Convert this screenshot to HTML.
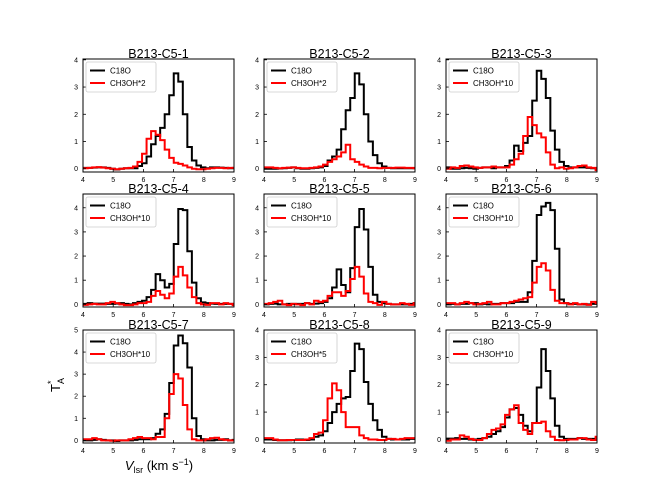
<!DOCTYPE html>
<html><head><meta charset="utf-8">
<style>
body{margin:0;background:#fff;}
svg{display:block;font-family:"Liberation Sans","DejaVu Sans",sans-serif;}
</style></head>
<body>
<svg id="fig" width="664" height="498" viewBox="0 0 664 498" xmlns="http://www.w3.org/2000/svg">
<rect width="664" height="498" fill="#fff"/>
<text x="60" y="385" font-size="13" transform="rotate(-90 60 385)" text-anchor="middle">T<tspan font-size="9" dy="4">A</tspan><tspan font-size="9" dy="-10" dx="-6">*</tspan></text>
<text x="159" y="470" font-size="13" text-anchor="middle"><tspan font-style="italic">V</tspan><tspan font-size="9" dy="3">lsr</tspan><tspan dy="-3"> (km s</tspan><tspan font-size="9" dy="-5">−1</tspan><tspan dy="5">)</tspan></text>
</svg>
<script>
const titles = ["B213-C5-1","B213-C5-2","B213-C5-3","B213-C5-4","B213-C5-5","B213-C5-6","B213-C5-7","B213-C5-8","B213-C5-9"];
const redLabels = ["CH3OH*2","CH3OH*2","CH3OH*10","CH3OH*10","CH3OH*10","CH3OH*10","CH3OH*10","CH3OH*5","CH3OH*10"];
const xTicks = [4,5,6,7,8,9];
const yMax = [4.03,4.03,4.03,4.57,4.57,4.57,5.0,4.0,4.0];
const yMin = [-0.12,-0.12,-0.12,-0.11,-0.11,-0.11,-0.12,-0.13,-0.13];
const yTickMax = [4,4,4,4,4,4,5,4,4];
const vel = [];
for (let i=0;i<34;i++) vel.push(+(4.08+0.15*i).toFixed(3));
const c18o = [
[0.03,0.03,0.04,0.05,0.05,0.03,0.0,-0.03,0.0,0.02,0.02,0.02,0.1,0.2,0.45,0.9,1.2,1.5,2.0,2.7,3.5,3.2,2.0,0.8,0.3,0.12,0.05,0.02,0.05,0.05,0.04,0.03,0.02,0.03],
[0,0,0,0.01,0.02,0.03,0.05,0.02,0,0,0.02,0.03,0.05,0.1,0.3,0.45,0.7,1.45,2.15,2.6,3.5,3.1,2.0,1.0,0.5,0.2,0.08,0.03,0.02,0.02,0.02,0.02,0.02,0.02],
[0.05,0,0,0.02,0.03,0.02,0,0.03,0.05,0.05,0.02,0.05,0.05,0.1,0.3,0.85,0.65,0.95,1.2,2.5,3.6,3.3,2.6,1.4,0.7,0.25,0.1,0.05,0.05,0.05,0.05,0.03,0.02,0],
[0.02,0.05,0.03,0.03,0.03,0.02,0.02,0.03,0.05,0.02,0,0.05,0.1,0.15,0.3,0.6,1.25,1.0,0.7,0.85,2.5,3.95,3.9,2.2,0.9,0.25,0.08,0.05,0.03,0.02,0.02,0.02,0.02,0.02],
[0,0.02,0.03,0,0,0.02,0.02,0.02,0.02,0.05,0.02,0.03,0.05,0.1,0.25,0.7,1.45,0.8,0.5,1.5,3.2,3.95,3.1,1.55,0.4,0.1,0.05,0.02,0,0,0,0,0.02,0.05],
[0,0.02,0,0.02,0.02,0.05,0.05,0,0.02,0,0.02,0.02,0.05,0.05,0.05,0.1,0.1,0.1,0.5,1.8,3.7,4.05,4.2,3.9,2.3,0.2,0.05,0.02,0.02,0,0,0,0.02,0.02],
[0,0,0.02,0.05,0.02,0,0,-0.03,0,0,0,0.02,0.05,0.05,0.05,0.1,0.3,0.5,1.2,2.6,4.3,4.75,4.4,3.3,1.0,0.2,0.05,0,0,0.02,0.02,0.05,0,0.02],
[0,0,-0.02,-0.03,-0.03,-0.03,-0.02,0,0,-0.02,0,0.1,0.15,0.3,0.6,1.0,1.3,1.5,1.55,2.5,3.5,3.3,2.1,1.3,0.7,0.35,0.1,0.02,0,0,0,0,0.02,0.02],
[0.03,0.03,0.05,0.02,0.02,0,0,0.02,0.05,0.1,0.2,0.3,0.45,0.8,1.1,1.15,0.9,0.5,0.3,0.6,1.9,3.3,2.5,1.5,0.5,0.1,0.02,0.02,0.02,0.05,0.02,0.02,0.02,0.05]
];
const ch3oh = [
[0.02,0.03,0.05,0.06,0.04,0.02,0,-0.02,0,0.02,0.03,0.08,0.25,0.55,1.1,1.38,1.25,1.05,0.7,0.4,0.22,0.18,0.12,0.05,0,-0.02,-0.02,0,0.02,0.03,0.03,0.02,0.03,0.03],
[0.05,0.05,0.03,0.02,0.03,0.04,0.05,0.03,0.02,0.02,0.03,0.05,0.08,0.15,0.25,0.35,0.45,0.6,0.88,0.35,0.25,0.15,0.08,0.03,0.03,0.02,0.03,0.03,0.03,0.04,0.04,0.03,0.03,0.02],
[0,0.05,0.03,0.1,0.12,0.08,0.05,0.03,0.05,0.05,0.08,0.05,0.05,0.05,0.15,0.35,0.55,1.2,1.9,1.6,1.3,1.15,0.6,0.15,0.02,0.05,0,0.02,0.05,0.1,0.12,0.05,0.03,-0.05],
[-0.02,0,0.02,0,0,0.05,0.1,0.05,0,-0.03,-0.03,0,0.05,0.05,0.1,0.35,0.55,0.4,0.25,0.45,1.15,1.55,1.2,0.7,0.3,0.05,0,-0.02,0.05,0.05,0,0.05,0.02,-0.03],
[0.02,0.05,0.1,0.15,0,-0.03,0.02,0,-0.03,0.05,0,0.15,0.1,0.15,0.35,0.5,0.5,0.35,0.55,1.05,1.55,1.15,0.45,0.1,0.05,-0.02,0.1,0.02,0,0,0.05,0.02,-0.02,0.05],
[0.05,0.05,0,0.05,0.1,0.05,0,0.02,0.05,0.1,0,0,0.05,0.05,0.1,0.15,0.2,0.25,0.3,0.9,1.55,1.7,1.4,0.6,0.15,0.05,0.05,0,0.05,0,0.02,-0.02,0.1,0.05],
[0.05,0.05,0.1,0.05,0,0,-0.02,0,0,0,0.05,0.1,0.15,0.1,0.1,0.05,0.15,0.15,1.0,2.1,3.0,2.8,1.6,0.5,0.05,0,0,0.05,0.1,0.12,0.05,0.02,0,0],
[0.05,0.05,0,-0.03,-0.03,-0.02,-0.02,-0.02,-0.02,0,0.05,0.2,0.25,0.7,1.5,2.05,1.8,1.0,0.45,0.45,0.45,0.15,0.05,0,0,-0.02,-0.02,0.02,0.02,0,0.02,0.05,0.05,0.05],
[-0.05,0,0,0.15,0.1,0.02,-0.02,-0.02,0.05,0.2,0.35,0.4,0.55,0.9,1.1,1.25,0.6,0.35,0.2,0.6,0.6,0.65,0.3,0.1,-0.02,-0.03,-0.02,0,0,0.05,0.05,0,-0.02,0.1]
];
const NS='http://www.w3.org/2000/svg';
const svg=document.getElementById('fig');
const colLeft=[83,264,446], rowTop=[59,194,330], W=151, H=113;
const dv=0.15;
function mk(tag,attrs,parent){const e=document.createElementNS(NS,tag);for(const k in attrs)e.setAttribute(k,attrs[k]);(parent||svg).appendChild(e);return e;}
for(let p=0;p<9;p++){
  const L=colLeft[p%3], T=rowTop[Math.floor(p/3)];
  const g=mk('g',{});
  
  
  const xs=v=>L+(v-4)/5*W;
  const ys=y=>T+H-(y-yMin[p])/(yMax[p]-yMin[p])*H;
  const cid='clip'+p;
  const cp=mk('clipPath',{id:cid},g); mk('rect',{x:L,y:T,width:W,height:H},cp);
  function series(vals,color,name){
    let d='';
    for(let i=0;i<vel.length;i++){
      const x0=xs(vel[i]-dv/2), x1=xs(vel[i]+dv/2), y=ys(vals[i]);
      d+=(i===0?'M':'L')+x0.toFixed(2)+','+y.toFixed(2)+'L'+x1.toFixed(2)+','+y.toFixed(2);
    }
    const path=mk('path',{d:d,fill:'none',stroke:color,'stroke-width':2,'clip-path':'url(#'+cid+')'},g);
    
    
  }
  series(c18o[p],'#000','c18o-line');
  series(ch3oh[p],'#f00','ch3oh-line');
  const fr=mk('rect',{x:L,y:T,width:W,height:H,fill:'none',stroke:'#000','stroke-width':1},g);
  
  
  xTicks.forEach(t=>{
    const x=xs(t);
    mk('line',{x1:x,x2:x,y1:T+H,y2:T+H-3,stroke:'#000','stroke-width':0.8},g);
    const tx=mk('text',{x:x,y:T+H+10,'font-size':7,'text-anchor':'middle'},g);
    tx.textContent=t;
    
    
  });
  for(let t=0;t<=yTickMax[p];t++){
    const y=ys(t);
    mk('line',{x1:L,x2:L+3,y1:y,y2:y,stroke:'#000','stroke-width':0.8},g);
    const ty=mk('text',{x:L-5,y:y+2.5,'font-size':7,'text-anchor':'end'},g);
    ty.textContent=t;
    
    
  }
  const ti=mk('text',{x:L+W/2,y:T-1,'font-size':12.5,'text-anchor':'middle'},g);
  ti.textContent=titles[p];
  
  
  const lg=mk('g',{},g);
  
  
  mk('rect',{x:L+3,y:T+3,width:redLabels[p].length>8?74:70,height:30,fill:'#fff',stroke:'#ccc','stroke-width':0.8,rx:2},lg);
  mk('line',{x1:L+7,x2:L+22,y1:T+11.5,y2:T+11.5,stroke:'#000','stroke-width':2},lg);
  mk('line',{x1:L+7,x2:L+22,y1:T+24,y2:T+24,stroke:'#f00','stroke-width':2},lg);
  const l1=mk('text',{x:L+27,y:T+14.5,'font-size':8},lg); l1.textContent='C18O';
  
  
  const l2=mk('text',{x:L+27,y:T+27,'font-size':8},lg); l2.textContent=redLabels[p];
  
  
}
</script>
</body></html>
